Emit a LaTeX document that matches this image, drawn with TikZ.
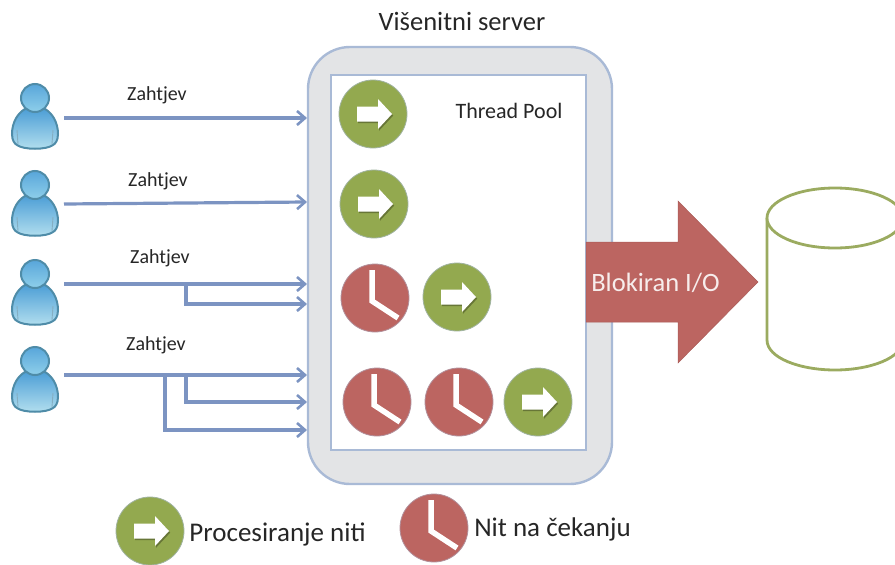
\documentclass[tikz,border=0pt]{standalone}
\usepackage{fontspec}
\setmainfont{Carlito}
\usetikzlibrary{arrows.meta,shadows}
\definecolor{linkblue}{HTML}{7C94C2}
\definecolor{rimblue}{HTML}{A9BAD6}
\definecolor{paneGrey}{HTML}{E3E4E6}
\definecolor{goGreen}{HTML}{93A94F}
\definecolor{waitRed}{HTML}{BC6561}
\definecolor{dbGreen}{HTML}{9BAB60}
\definecolor{userRim}{HTML}{4F8CA8}
\definecolor{userTop}{HTML}{4E9FD6}
\definecolor{userLow}{HTML}{B4E0EF}
\definecolor{headTop}{HTML}{58A6DA}
\definecolor{headLow}{HTML}{8FCFEA}
\tikzset{
  x=1pt,y=-1pt,
  link/.style={draw=linkblue,line width=3.2pt,-{Straight Barb[length=8pt,width=14pt,line width=2.6pt]}},
  trunk/.style={draw=linkblue,line width=3.8pt},
  greendot/.style={circle,fill=goGreen,draw=rimblue!60!goGreen,line width=.8pt,minimum size=68pt,inner sep=0pt},
  reddot/.style={circle,fill=waitRed,draw=rimblue!50!waitRed,line width=.8pt,minimum size=68pt,inner sep=0pt},
  lab/.style={inner sep=0pt,text=black!85},
  pics/goicon/.style={code={
    \node[greendot] (#1) at (0,0) {};
    \fill[black!30!goGreen,shift={(1.2,1.6)}] (-16,-7.5) -- (5,-7.5) -- (5,-15) -- (19,0) -- (5,15) -- (5,7.5) -- (-16,7.5) -- cycle;
    \fill[white] (-16,-7.5) -- (5,-7.5) -- (5,-15) -- (19,0) -- (5,15) -- (5,7.5) -- (-16,7.5) -- cycle;
  }},
  pics/clockicon/.style={code={
    \node[reddot] (#1) at (0,0) {};
    \draw[white,line width=5.5pt,line join=miter] (-3,-28) -- (-3,3) -- (23,20);
  }},
  pics/userfig/.style={code={
    \coordinate (#1) at (0,0);
    \path[draw=userRim,line width=2pt,top color=userTop,bottom color=userLow] (-10,11) .. controls (-17,15) and (-23,24) .. (-23,36)
      .. controls (-23,43) and (-20,46) .. (-18,47) .. controls (-12,52) and (12,52) .. (18,47)
      .. controls (20,46) and (23,43) .. (23,36) .. controls (23,24) and (17,15) .. (10,11) -- cycle;
    \draw[userRim!70!white,line width=.9pt] (-18,32) -- (-17,46) (18,32) -- (17,46);
    \path[draw=userRim,line width=2pt,top color=headTop,bottom color=headLow] (0,0) circle (14);
  }},
}
\begin{document}
\begin{tikzpicture}
\useasboundingbox (0,0) rectangle (895,565);
\clip (0,0) rectangle (895,565);
% server
\node[draw=rimblue,fill=paneGrey,line width=2.4pt,rounded corners=42pt,minimum width=304pt,minimum height=437pt,inner sep=0pt] (server) at (460,265.5) {};
\node[draw=rimblue,fill=white,line width=2pt,minimum width=255pt,minimum height=375pt,inner sep=0pt] (pool) at (458.5,262.5) {};
\node[lab,font=\fontsize{26.5}{30}\selectfont] (title) at (462,21) {Višenitni server};
\node[lab,font=\fontsize{22}{26}\selectfont] (poolname) at (509,111) {Thread Pool};
% users
\pic at (35,98) {userfig=u1};
\pic at (35,185) {userfig=u2};
\pic at (35,274) {userfig=u3};
\pic at (35,361) {userfig=u4};
% request labels
\node[lab,font=\fontsize{20}{24}\selectfont] (z1) at (157,95) {Zahtjev};
\node[lab,font=\fontsize{20}{24}\selectfont] (z2) at (158,181) {Zahtjev};
\node[lab,font=\fontsize{20}{24}\selectfont] (z3) at (160,258) {Zahtjev};
\node[lab,font=\fontsize{20}{24}\selectfont] (z4) at (156,345) {Zahtjev};
% connector ends
\coordinate (s1) at (64,118);  \coordinate (e1) at (307,118);
\coordinate (s2) at (64,204);  \coordinate (e2) at (307,202);
\coordinate (s3) at (64,284);  \coordinate (e3) at (307,284);
\coordinate (j3) at (186,284); \coordinate (f3) at (186,304); \coordinate (e3b) at (307,304);
\coordinate (s4) at (64,375);  \coordinate (e4) at (307,375);
\coordinate (j4) at (186,375); \coordinate (f4) at (186,402); \coordinate (e4b) at (307,402);
\coordinate (k4) at (165,375); \coordinate (h4) at (165,430); \coordinate (e4c) at (307,430);
\draw[link] (s1) -- (e1);
\draw[link] (s2) -- (e2);
\draw[link] (s3) -- (e3);
\draw[link] (j3) -- (f3) -- (e3b);
\draw[trunk] (s3) -- (j3);
\draw[link] (s4) -- (e4);
\draw[link] (j4) -- (f4) -- (e4b);
\draw[link] (k4) -- (h4) -- (e4c);
\draw[trunk,line width=4.6pt] (s4) -- (k4);
% pool contents
\pic at (373,114) {goicon=g1};
\pic at (374,204) {goicon=g2};
\pic at (375,298) {clockicon=r1};
\pic at (457,297) {goicon=g3};
\pic at (377,402) {clockicon=r2};
\pic at (459,402) {clockicon=r3};
\pic at (538,402) {goicon=g4};
% blocked I/O arrow
\path[fill=waitRed,draw=waitRed!90!black,line width=.5pt] (586,242) coordinate (ar) -- (678,242) -- (678,201) -- (758,282) coordinate (tip) -- (678,363) -- (678,322) -- (586,322) -- cycle;
\node[inner sep=0pt,text=white!88!waitRed,font=\fontsize{26.5}{30}\selectfont] (io) at (655.5,283) {Blokiran I/O};
% database
\draw[draw=dbGreen,fill=white,line width=2.8pt] (767,218) -- (767,340) .. controls (767,358) and (800,370) .. (835,370) .. controls (870,370) and (903,358) .. (903,340) -- (903,218);
\draw[draw=dbGreen,fill=white,line width=2.8pt] (835,218) ellipse (68 and 30);
% legend
\pic at (150,531) {goicon=lg};
\node[lab,font=\fontsize{27}{31}\selectfont] (lgt) at (277.5,534) {Procesiranje niti};
\pic at (434,528) {clockicon=lr};
\node[lab,font=\fontsize{27}{31}\selectfont] (lrt) at (552.5,529) {Nit na čekanju};
\end{tikzpicture}
\end{document}
